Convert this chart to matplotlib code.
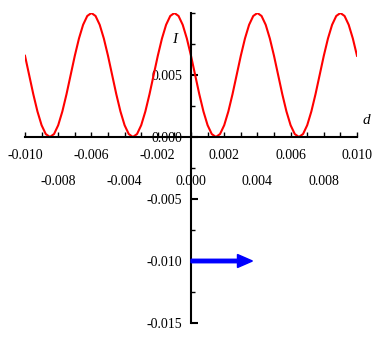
import numpy as np
import matplotlib
matplotlib.use('Agg')
import matplotlib.pyplot as plt
from matplotlib.ticker import FixedLocator, MultipleLocator, StrMethodFormatter

plt.rcParams['font.family'] = ['Liberation Serif', 'DejaVu Serif']
plt.rcParams['axes.unicode_minus'] = False

# d values, step 0.00025
d = np.linspace(-0.010, 0.010, 81)
# intensity (x 0.001)
one_period = [6.55, 5.00, 3.45, 2.06, 0.95, 0.24, 0.00, 0.24, 0.95, 2.06,
              3.45, 5.00, 6.55, 7.94, 9.05, 9.76, 10.00, 9.76, 9.05, 7.94]
I_vals = np.array(one_period * 4 + [6.55]) * 1e-3

xticks_row1 = [-0.010, -0.006, -0.002, 0.002, 0.006, 0.010]
xticks_row2 = [-0.008, -0.004, 0.000, 0.004, 0.008]
yticks = [-0.015, -0.010, -0.005, 0.000, 0.005]

arrow_start = (0.0, -0.010)
arrow_end = (0.0037, -0.010)

fig = plt.figure(figsize=(3.8, 3.47), dpi=100)
ax = fig.add_axes([25/380, 24/347, 332/380, 310/347])

ax.plot(d, I_vals, color='#ff0000', lw=1.5)

ax.set_xlim(-0.010, 0.010)
ax.set_ylim(-0.015, 0.010)

for s in ['top', 'right']:
    ax.spines[s].set_visible(False)
ax.spines['left'].set_position(('data', 0))
ax.spines['bottom'].set_position(('data', 0))
ax.spines['left'].set_linewidth(1.5)
ax.spines['bottom'].set_linewidth(1.5)

# x axis: first row of labels
ax.xaxis.set_major_locator(FixedLocator(xticks_row1))
ax.xaxis.set_major_formatter(StrMethodFormatter('{x:.3f}'))
ax.xaxis.set_minor_locator(MultipleLocator(0.001))
ax.tick_params(axis='x', which='both', direction='in', length=3.5, width=1,
               pad=8.5, labelsize=10)

# second row of x labels
sec = ax.secondary_xaxis(0.6)
sec.xaxis.set_ticks_position('bottom')
sec.xaxis.set_label_position('bottom')
sec.xaxis.set_major_locator(FixedLocator(xticks_row2))
sec.xaxis.set_major_formatter(StrMethodFormatter('{x:.3f}'))
sec.tick_params(axis='x', which='both', length=0, pad=27, labelsize=10,
                labelbottom=True, labeltop=False)
for s in sec.spines.values():
    s.set_visible(False)

ax.yaxis.set_major_locator(FixedLocator(yticks))
ax.yaxis.set_major_formatter(StrMethodFormatter('{x:.3f}'))
ax.yaxis.set_minor_locator(MultipleLocator(0.0025))
ax.tick_params(axis='y', which='major', direction='in', length=5, width=1.5,
               pad=6.5, labelsize=10)
ax.tick_params(axis='y', which='minor', direction='in', length=3, width=1)

ax.text(-0.00096, 0.00784, 'I', style='italic', fontsize=11,
        ha='center', va='center')
ax.text(0.01054, 0.00133, 'd', style='italic', fontsize=11,
        ha='center', va='center', clip_on=False)

ax.arrow(arrow_start[0], arrow_start[1],
         arrow_end[0] - arrow_start[0], arrow_end[1] - arrow_start[1],
         width=0.00028, head_width=0.00105, head_length=0.0009,
         length_includes_head=True, color='#0000ff', zorder=3)

fig.savefig('out.png', dpi=100)
